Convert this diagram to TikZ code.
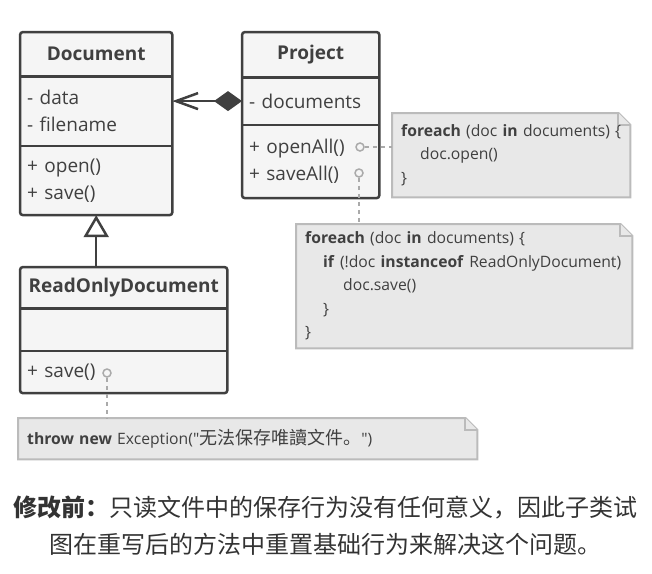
\documentclass[tikz,border=0pt]{standalone}
\usepackage{fontspec}
\setmainfont{Open Sans}[Ligatures=TeXOff]
\newfontfamily\cjk{Noto Sans CJK SC}
\usepackage{tikz}
\usetikzlibrary{positioning}
\usetikzlibrary{arrows.meta}
\usetikzlibrary{calc}
\usetikzlibrary{fit}
\usetikzlibrary{backgrounds}
\definecolor{ink}{HTML}{404040}
\definecolor{boxfill}{HTML}{F5F5F5}
\definecolor{notefill}{HTML}{E8E8E8}
\definecolor{noteline}{HTML}{BBBBBB}
\definecolor{portline}{HTML}{AAAAAA}
\definecolor{captext}{HTML}{333333}
\tikzset{
  compart/.style={rectangle, fill=boxfill, text=ink, inner xsep=7pt, inner ysep=0pt,
    text width=#1, align=left, font=\fontsize{19}{27}\selectfont},
  head/.style={compart=#1, align=center, font=\bfseries\fontsize{19}{27}\selectfont},
  frame/.style={draw=ink, line width=2.5pt, rounded corners=3pt, inner sep=0pt},
  divider/.style={draw=ink, line width=2.5pt},
  port/.style={circle, draw=portline, line width=1.5pt, minimum size=8pt, inner sep=0pt},
  link/.style={draw=portline, line width=2pt, dash pattern=on 4pt off 4pt},
  note/.style={rectangle, text=ink, inner xsep=9pt, inner ysep=0pt, text width=#1,
    align=left, anchor=north west, font=\fontsize{15.7}{23.5}\selectfont},
  fold/.style={draw=noteline, fill=notefill, line width=2pt},
  caption/.style={align=center, text=captext, font=\cjk\fontsize{24}{37}\selectfont}
}
\begin{document}
\begin{tikzpicture}[x=1pt, y=-1pt]
  \useasboundingbox (0,0) rectangle (652,573);
  \node[head=138pt, minimum height=44pt, anchor=north west] (docHead) at (20,32) {Document};
  \node[compart=138pt, minimum height=69pt, below=0pt of docHead] (docAttrs) {- data\\- filename};
  \node[compart=138pt, minimum height=69pt, below=0pt of docAttrs] (docOps) {+ open()\\+ save()};
  \node[head=123pt, minimum height=45pt, anchor=north west] (projHead) at (242,32) {Project};
  \node[compart=123pt, minimum height=47pt, below=0pt of projHead] (projAttrs) {- documents};
  \node[compart=123pt, minimum height=73pt, below=0pt of projAttrs] (projOps) {+ openAll()\\+ saveAll()};
  \node[head=193pt, minimum height=41pt, anchor=north west] (roHead) at (20,267) {ReadOnlyDocument};
  \node[compart=193pt, minimum height=42pt, below=0pt of roHead] (roAttrs) {};
  \node[compart=193pt, minimum height=42pt, below=0pt of roAttrs] (roOps) {+ save()};
  \foreach \c in {doc,proj,ro}{
    \node[frame, fit=(\c Head)(\c Ops)] {};
    \draw[divider] (\c Attrs.north west) -- (\c Attrs.north east);
    \draw[divider] (\c Ops.north west) -- (\c Ops.north east);
  }
  \draw[ink, line width=2.5pt, {Diamond[length=28pt,width=20pt]}-{Straight Barb[length=22pt,width=16pt]}]
    (projAttrs.west) -- (projAttrs.west -| docAttrs.east);
  \draw[ink, line width=2.5pt, -{Triangle[length=22pt,width=25pt,fill=white]}]
    (roHead.north -| docOps.south) -- (docOps.south);
  \node[port] (openPort) at (360,147) {};
  \node[port] (savePort) at (359,173) {};
  \node[port] (roPort) at (107,373) {};
  \node[note=220pt, minimum height=84pt] (openNote) at (392,113)
    {\textbf{foreach} (doc \textbf{in} documents) \{\\\hspace*{19pt}doc.open()\\\}};
  \node[note=318pt, minimum height=124pt] (saveNote) at (296,224)
    {\textbf{foreach} (doc \textbf{in} documents) \{\\
     \hspace*{18pt}\textbf{if} (!doc \textbf{instanceof} ReadOnlyDocument)\\
     \hspace*{38pt}doc.save()\\\hspace*{18pt}\}\\\}};
  \node[note=441pt, minimum height=41pt] (throwNote) at (18,418)
    {\textbf{throw new} Exception("{\cjk\fontsize{18}{23.5}\selectfont 无法保存唯讀文件。}")};
  \begin{scope}[on background layer]
    \foreach \n in {openNote,saveNote,throwNote}{
      \draw[fold] (\n.south west) |- ($(\n.north east)+(-12,0)$) -- ($(\n.north east)+(0,12)$)
        -- (\n.south east) -- cycle;
      \draw[fold] ($(\n.north east)+(-12,0)$) |- ($(\n.north east)+(0,12)$);
    }
  \end{scope}
  \draw[link] (openPort) -- (openPort -| openNote.west);
  \draw[link] (savePort) -- (savePort |- saveNote.north);
  \draw[link] (roPort) -- (roPort |- throwNote.north);
  \node[caption] (caption) at (325,526)
    {{\bfseries 修改前：}只读文件中的保存行为没有任何意义，因此子类试\\图在重写后的方法中重置基础行为来解决这个问题。};
\end{tikzpicture}
\end{document}
